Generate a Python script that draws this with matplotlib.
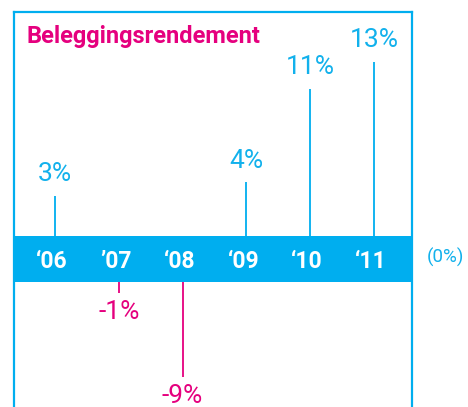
import matplotlib
matplotlib.use("Agg")
import matplotlib.pyplot as plt
from matplotlib.lines import Line2D

# ---- data ----
years = ["\u201806", "\u201907", "\u201808", "\u201809", "\u201810", "\u201811"]
returns = [3, 4, 11, 13]            # positive years
pos_idx = [0, 3, 4, 5]
neg_returns = [-1, -9]
neg_idx = [1, 2]
title = "Beleggingsrendement"
zero_label = "(0%)"

CYAN = "#00aeef"
TXT_CYAN = "#12b1ec"
MAGENTA = "#e5007e"
W, H = 468, 407

fig = plt.figure(figsize=(W / 100, H / 100), dpi=100)

def fx(px):
    return px / W

def fy(py):
    return 1 - py / H

XL = (-0.643, 5.596)

# frame
for xs, ys in [([14, 14], [12, 410]), ([412, 412], [12, 410]), ([14, 412], [12, 12])]:
    fig.add_artist(Line2D([fx(x) for x in xs], [fy(y) for y in ys], color=CYAN,
                          lw=1.6, transform=fig.transFigure))

# upper axes (positive)
ax_up = fig.add_axes([fx(14), fy(236), fx(412) - fx(14), fy(12) - fy(236)])
ax_up.set_xlim(*XL)
ax_up.set_ylim(0, 224 / 13.4)
ax_up.axis("off")
ax_up.patch.set_alpha(0)
ax_up.vlines(pos_idx, 0, returns, color=CYAN, lw=1.3)
for i, v in zip(pos_idx, returns):
    ax_up.annotate(f"{v}%", (i, v), xytext=(0, 7), textcoords="offset points",
                   ha="center", va="bottom", color=TXT_CYAN, fontsize=19,
                   family="Roboto", fontweight="normal")

# lower axes (negative)
ax_dn = fig.add_axes([fx(14), fy(410), fx(412) - fx(14), fy(282) - fy(410)])
ax_dn.set_xlim(*XL)
ax_dn.set_ylim(-128 / 10.6, 0)
ax_dn.axis("off")
ax_dn.patch.set_alpha(0)
ax_dn.vlines(neg_idx, neg_returns, 0, color=MAGENTA, lw=1.3)
for i, v in zip(neg_idx, neg_returns):
    ax_dn.annotate(f"-{abs(v)}%", (i, v), xytext=(0, -5), textcoords="offset points",
                   ha="center", va="top", color=MAGENTA, fontsize=19,
                   family="Roboto", fontweight="normal")

# band axes
ax_b = fig.add_axes([fx(13), fy(282), fx(413) - fx(13), fy(236) - fy(282)])
ax_b.set_xlim(XL[0] - 1 / 63.8, XL[1] + 1 / 63.8)
ax_b.set_ylim(0, 1)
ax_b.set_facecolor(CYAN)
for s in ax_b.spines.values():
    s.set_visible(False)
ax_b.set_xticks([])
ax_b.set_yticks([])
for i, lab in enumerate(years):
    ax_b.text(i - 0.05, 0.45, lab, ha="center", va="center", color="white",
              fontsize=16.5, fontweight="bold", family="Roboto")

fig.text(fx(445), fy(257), zero_label, ha="center", va="center", color=TXT_CYAN,
         fontsize=13.5, family="Roboto", fontweight="normal")

fig.text(fx(26), fy(36), title, ha="left", va="center", color=MAGENTA,
         fontsize=17, fontweight="bold", family="Roboto")

fig.savefig("out.png", dpi=100)
